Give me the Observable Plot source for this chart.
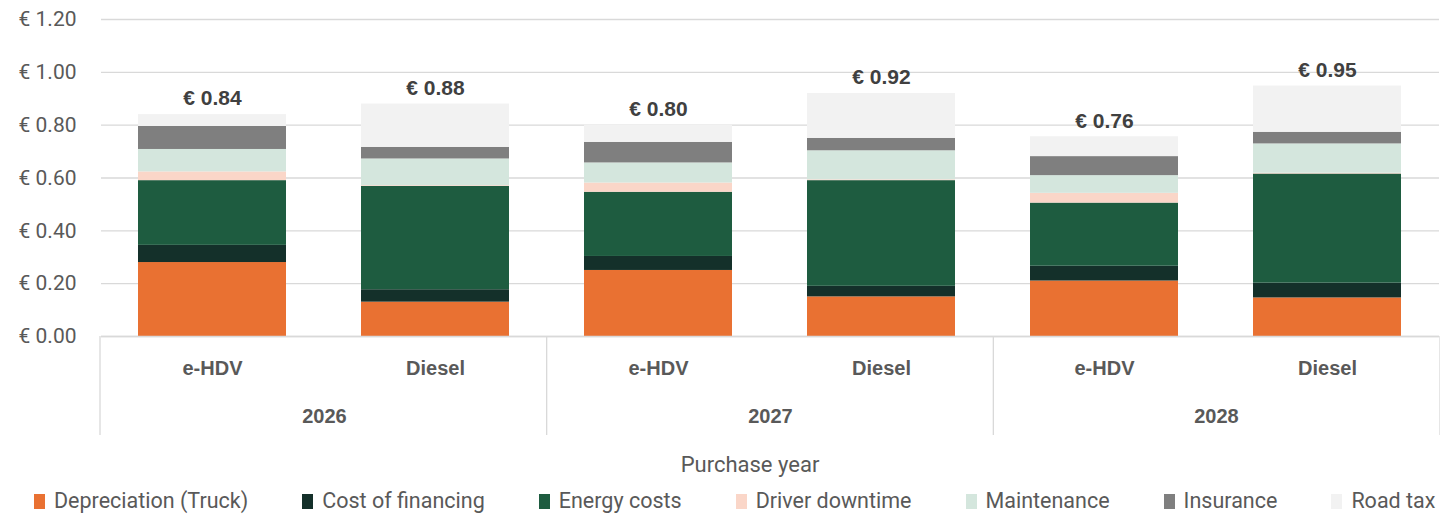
<!DOCTYPE html>
<html><head><meta charset="utf-8">
<script src="https://cdn.jsdelivr.net/npm/d3@7"></script>
<script src="https://cdn.jsdelivr.net/npm/@observablehq/plot@0.6"></script>
<style>
body{margin:0;background:#fff;font-family:Roboto,"Liberation Sans",Arial,sans-serif;}
#wrap{width:1440px;height:515px;overflow:hidden;}
#xtitle{margin-top:13px;height:24px;line-height:24px;font-size:22px;color:#595959;padding-left:60px;text-align:center;width:1380px;}
#legend{margin-top:12px;height:24px;line-height:24px;display:flex;align-items:center;padding-left:34px;font-size:21.5px;color:#595959;}
#legend .item{display:flex;align-items:center;margin-right:54px;white-space:nowrap;}
#legend .sw{width:11px;height:15px;margin-right:9px;display:inline-block;}
</style></head><body><div id="wrap"><div id="chart"></div><div id="xtitle"></div><div id="legend"></div></div>
<script>
const years = ["2026", "2027", "2028"];
const fuels = ["e-HDV", "Diesel"];
const components = ["Depreciation (Truck)", "Cost of financing", "Energy costs", "Driver downtime", "Maintenance", "Insurance", "Road tax"];
const colors = ["#E97132", "#14302A", "#1E5C40", "#FAD6C8", "#D4E6DD", "#7F7F7F", "#F2F2F2"];
// values in order: 2026 e-HDV, 2026 Diesel, 2027 e-HDV, 2027 Diesel, 2028 e-HDV, 2028 Diesel
const depreciation = [0.280, 0.130, 0.250, 0.150, 0.210, 0.146];
const financing    = [0.065, 0.047, 0.053, 0.040, 0.056, 0.056];
const energy       = [0.245, 0.391, 0.243, 0.400, 0.239, 0.413];
const downtime     = [0.033, 0.003, 0.035, 0.003, 0.037, 0.003];
const maintenance  = [0.085, 0.101, 0.076, 0.110, 0.067, 0.111];
const insurance    = [0.087, 0.044, 0.078, 0.047, 0.072, 0.044];
const roadTax      = [0.045, 0.164, 0.065, 0.170, 0.075, 0.175];
const yTicks = [0, 0.2, 0.4, 0.6, 0.8, 1.0, 1.2];
const xTitle = "Purchase year";

const series = [depreciation, financing, energy, downtime, maintenance, insurance, roadTax];
const groups = years.flatMap(y => fuels.map(f => ({year: y, fuel: f})));
const rows = [];
components.forEach((c, ci) => groups.forEach((g, gi) => rows.push({year: g.year, fuel: g.fuel, component: c, value: series[ci][gi]})));
const totals = groups.map((g, gi) => ({...g, total: d3.sum(series, s => s[gi])}));
const euro = v => "€ " + v.toFixed(2);

const plot = Plot.plot({
  width: 1440, height: 440,
  marginTop: 19, marginBottom: 104, marginLeft: 100, marginRight: 0,
  fx: {domain: years, paddingInner: 0, paddingOuter: 0, label: null},
  x: {domain: fuels, paddingInner: 0.336, paddingOuter: 0.164, label: null},
  y: {domain: [0, 1.2], label: null},
  color: {domain: components, range: colors},
  style: {fontFamily: "'Liberation Sans', Arial, sans-serif", fontSize: "18px", color: "#595959", background: "#fff"},
  marks: [
    Plot.gridY(yTicks, {stroke: "#d9d9d9", strokeOpacity: 1, strokeWidth: 1.3}),
    Plot.axisY(yTicks, {tickSize: 0, tickPadding: 25, tickFormat: euro, fontSize: 21, fontFamily: "Roboto", fill: "#595959", label: null}),
    Plot.barY(rows, {fx: "year", x: "fuel", y: "value", fill: "component"}),
    Plot.ruleY([0], {stroke: "#d9d9d9", strokeWidth: 1.3}),
    Plot.text(totals, {fx: "year", x: "fuel", y: "total", text: d => euro(d.total), dy: -16, fontWeight: "bold", fontSize: 21, fill: "#404040"}),
    Plot.axisX({tickSize: 0, tickPadding: 24, fontWeight: "bold", fontSize: 20, fill: "#595959", label: null}),
    Plot.axisFx({anchor: "bottom", tickSize: 0, tickPadding: 72, fontWeight: "bold", fontSize: 20, fill: "#595959", label: null})
  ]
});
document.getElementById("chart").appendChild(plot);

// facet separators below the axis, from the plot's own scales
const fxs = plot.scale("fx");
const ys = plot.scale("y");
const band = d3.scaleBand().domain(fxs.domain).range(fxs.range).paddingInner(fxs.paddingInner ?? 0).paddingOuter(fxs.paddingOuter ?? 0);
const y0 = ys.apply(0);
const svg = d3.select(plot.tagName.toLowerCase() === "svg" ? plot : plot.querySelector("svg"));
const edges = years.map(y => band(y)).concat([band(years[years.length - 1]) + band.bandwidth()]);
svg.append("g").selectAll("line").data(edges).join("line")
  .attr("x1", d => d).attr("x2", d => d).attr("y1", y0).attr("y2", y0 + 99)
  .attr("stroke", "#d9d9d9").attr("stroke-width", 1.3);

document.getElementById("xtitle").textContent = xTitle;
const lg = d3.select("#legend");
components.forEach((c, i) => {
  const it = lg.append("div").attr("class", "item");
  it.append("span").attr("class", "sw").style("background", colors[i]);
  it.append("span").text(c);
});
</script></body></html>
